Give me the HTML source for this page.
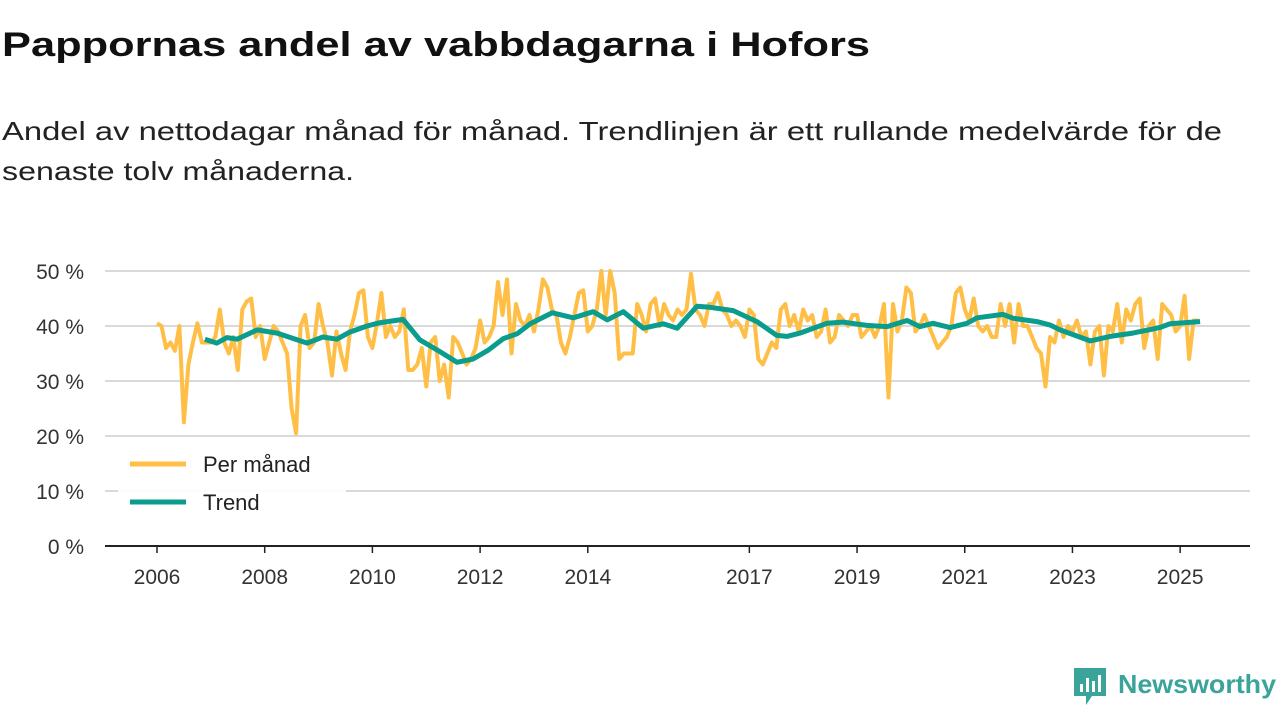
<!DOCTYPE html>
<html><head><meta charset="utf-8"><style>
html,body{margin:0;padding:0;background:#fff;width:1280px;height:720px;overflow:hidden}
svg{display:block;font-family:"Liberation Sans","DejaVu Sans",sans-serif}
</style></head><body>
<svg id="chart" width="1280" height="720" viewBox="0 0 1280 720" xmlns="http://www.w3.org/2000/svg">
<text x="2" y="56" font-size="34" font-weight="bold" fill="#111" textLength="868" lengthAdjust="spacingAndGlyphs">Pappornas andel av vabbdagarna i Hofors</text>
<text x="2" y="140" font-size="26" fill="#222" textLength="1220" lengthAdjust="spacingAndGlyphs">Andel av nettodagar månad för månad. Trendlinjen är ett rullande medelvärde för de</text>
<text x="2" y="180" font-size="26" fill="#222" textLength="352" lengthAdjust="spacingAndGlyphs">senaste tolv månaderna.</text>
<g id="grid"></g><g id="xaxis"></g>
<g id="series"></g>
<g>
<rect x="118" y="445" width="228" height="78" fill="#fff" opacity="0.9"/>
<line x1="130" y1="464" x2="186" y2="464" stroke="#ffbf47" stroke-width="5"/>
<text x="203" y="472" font-size="22" fill="#222">Per månad</text>
<line x1="130" y1="502" x2="186" y2="502" stroke="#0a9c8c" stroke-width="5"/>
<text x="203" y="510" font-size="22" fill="#222">Trend</text>
</g>
<g>
<path d="M1074 668h32v28h-14l-6 9v-9h-12z" fill="#3aa39a"/>
<rect x="1080" y="684" width="3" height="8" fill="#fff"/><rect x="1086" y="678" width="3" height="14" fill="#fff"/><rect x="1092" y="681" width="3" height="11" fill="#fff"/><rect x="1098" y="675" width="3" height="17" fill="#fff"/>
<text x="1118" y="693" font-size="26" font-weight="bold" fill="#3aa39a" textLength="158" lengthAdjust="spacingAndGlyphs">Newsworthy</text>
</g>
</svg>
<script>
const yTicks=[0,10,20,30,40,50];
const xTickYears=[2006,2008,2010,2012,2014,2017,2019,2021,2023,2025];
const monthly=[
40.5,40,36,37,35.5,40,22.5,33,37,40.5,37,37,
37,38,43,37,35,38,32,43,44.5,45,38,40,
34,37,40,39,37,35,25,20.5,40,42,36,37,
44,40,37,31,39,35,32,39,42,46,46.5,38,
36,40.5,46,38,40,38,39,43,32,32,33,36,
29,37,38,30,33,27,38,37,35,33,34,36,
41,37,38,40,48,42,48.5,35,44,41,40,42,
39,43,48.5,47,43,42,37,35,38,42,46,46.5,
39,40,43,50,42,50,46,34,35,35,35,44,
42,39,44,45,40,44,42,41,43,42,43,49.5,
43,42,40,44,44,46,43,42,40,41,40,38,
43,42,34,33,35,37,36,43,44,40,42,39,
43,41,42,38,39,43,37,38,42,41,40,42,
42,38,39,40,38,40,44,27,44,39,41,47,
46,39,40,42,40,38,36,37,38,40,46,47,
43,41,45,40,39,40,38,38,44,40,44,37,
44,40,40,38,36,35,29,38,37,41,38,40,
39,41,38,39,33,39,40,31,40,39,44,37,
43,41,44,45,36,40,41,34,44,43,42,39,
40,45.5,34,41,41];
const trendYears=[2006.89,2007.11,2007.30,2007.49,2007.86,2008.23,2008.79,2009.08,2009.34,2009.58,2009.90,2010.14,2010.57,2010.88,2011.26,2011.57,2011.87,2012.15,2012.43,2012.69,2012.93,2013.34,2013.73,2014.10,2014.36,2014.66,2015.03,2015.40,2015.66,2016.03,2016.27,2016.70,2017.14,2017.51,2017.70,2017.94,2018.44,2018.74,2019.18,2019.56,2019.93,2020.17,2020.41,2020.73,2021.04,2021.23,2021.71,2021.90,2022.34,2022.58,2022.77,2023.33,2023.70,2024.12,2024.62,2024.81,2025.37];
const trendValues=[37.6,36.9,37.9,37.6,39.3,38.7,36.9,38,37.6,38.9,40,40.6,41.2,37.5,35.3,33.4,34,35.6,37.7,38.6,40.4,42.4,41.5,42.6,41.1,42.6,39.6,40.4,39.6,43.6,43.4,42.8,40.8,38.3,38.1,38.7,40.5,40.7,40.1,39.9,41,39.9,40.5,39.7,40.5,41.5,42.1,41.4,40.8,40.2,39.3,37.3,38.1,38.7,39.7,40.4,40.8];

const NS='http://www.w3.org/2000/svg';
const X=yr=>157+(yr-2006)*53.85;
const Y=v=>546-v*5.5;
function mk(tag,attrs,parent){const e=document.createElementNS(NS,tag);for(const k in attrs)e.setAttribute(k,attrs[k]);parent.appendChild(e);return e;}
const grid=document.getElementById('grid'),xa=document.getElementById('xaxis'),ser=document.getElementById('series');
yTicks.forEach(v=>{
  if(v>0){const l=mk('line',{x1:105,x2:1250,y1:Y(v),y2:Y(v),stroke:'#d9d9d9','stroke-width':2},grid);
  
  }
  const t=mk('text',{x:84,y:Y(v)+8,'text-anchor':'end','font-size':21,fill:'#333'},grid);
  t.textContent=v+' %';
  
  
});
const ax=mk('line',{x1:105,x2:1250,y1:546,y2:546,stroke:'#222','stroke-width':2},xa);


xTickYears.forEach(yr=>{
  mk('line',{x1:X(yr),x2:X(yr),y1:546,y2:553,stroke:'#222','stroke-width':1.5},xa);
  const t=mk('text',{x:X(yr),y:584,'text-anchor':'middle','font-size':21,fill:'#333'},xa);
  t.textContent=yr;
  
  
});
const mp=monthly.map((v,i)=>X(2006+i/12).toFixed(1)+','+Y(v).toFixed(1)).join(' ');
const l1=mk('polyline',{points:mp,fill:'none',stroke:'#ffbf47','stroke-width':4,'stroke-linejoin':'round'},ser);


const tp=trendValues.map((v,i)=>X(trendYears[i]).toFixed(1)+','+Y(v).toFixed(1)).join(' ');
const l2=mk('polyline',{points:tp,fill:'none',stroke:'#0a9c8c','stroke-width':5,'stroke-linejoin':'round'},ser);


</script>
</body></html>
